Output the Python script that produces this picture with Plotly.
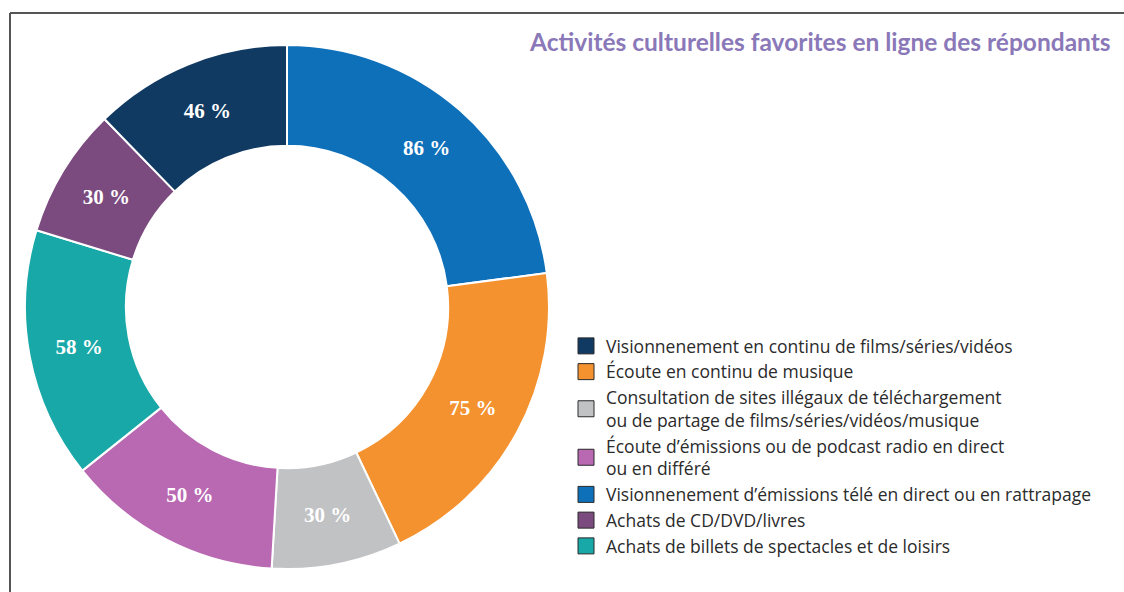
import plotly.graph_objects as go

# Slices, clockwise from 12 o'clock
slice_labels = [
    "Visionnenement d’émissions télé en direct ou en rattrapage",
    "Écoute en continu de musique",
    "Consultation de sites illégaux de téléchargement<br>ou de partage de films/séries/vidéos/musique",
    "Écoute d’émissions ou de podcast radio en direct<br>ou en différé",
    "Achats de billets de spectacles et de loisirs",
    "Achats de CD/DVD/livres",
    "Visionnenement en continu de films/séries/vidéos",
]
slice_values = [86, 75, 30, 50, 58, 30, 46]
slice_colors = ["#0f70ba", "#f4922f", "#c1c2c4", "#b968b2", "#19a8a8", "#7b4b7f", "#113a62"]

# Legend order
legend_order = [6, 1, 2, 3, 0, 5, 4]

title_text = "Activités culturelles favorites en ligne des répondants"

W, H = 1124, 592
cx, cy, r = 287, 307, 262

fig = go.Figure()

fig.add_trace(go.Pie(
    labels=slice_labels,
    values=slice_values,
    sort=False,
    direction="clockwise",
    rotation=0,
    hole=0.615,
    marker=dict(colors=slice_colors, line=dict(color="white", width=2)),
    texttemplate="<b>%{value} %</b>",
    textposition="inside",
    insidetextorientation="horizontal",
    textfont=dict(family="Liberation Serif, DejaVu Serif, serif", size=21, color="white"),
    showlegend=False,
    hoverinfo="label+value",
    domain=dict(x=[(cx - r) / W, (cx + r) / W], y=[(H - cy - r) / H, (H - cy + r) / H]),
))

# Legend entries as marker-only traces
for i in legend_order:
    fig.add_trace(go.Scatter(
        x=[None], y=[None], mode="markers",
        name=slice_labels[i],
        marker=dict(symbol="square", size=16, color=slice_colors[i],
                    line=dict(color="#2a2a2a", width=1)),
        showlegend=True,
    ))

bx, by = 10 / W, 1 - 13 / H
fig.update_layout(
    width=W, height=H,
    margin=dict(l=0, r=0, t=0, b=0),
    paper_bgcolor="white", plot_bgcolor="white",
    xaxis=dict(visible=False), yaxis=dict(visible=False),
    legend=dict(
        x=566 / W, y=1 - 328 / H, xanchor="left", yanchor="top",
        font=dict(family="Open Sans, Lato, sans-serif", size=17.5, color="#2b2b2b"),
        tracegroupgap=0, itemsizing="trace", bgcolor="rgba(0,0,0,0)",
    ),
    shapes=[
        dict(type="line", xref="paper", yref="paper", x0=bx, y0=0, x1=bx, y1=by,
             line=dict(color="#555555", width=2)),
        dict(type="line", xref="paper", yref="paper", x0=bx, y0=by, x1=1, y1=by,
             line=dict(color="#555555", width=2)),
    ],
    annotations=[dict(
        text=f"<b>{title_text}</b>", xref="paper", yref="paper",
        x=1113 / W, y=1 - 41 / H, xanchor="right", yanchor="middle", showarrow=False,
        font=dict(family="Lato, sans-serif", size=24.5, color="#8a78b8"),
    )],
)

fig.write_html("out.html")
